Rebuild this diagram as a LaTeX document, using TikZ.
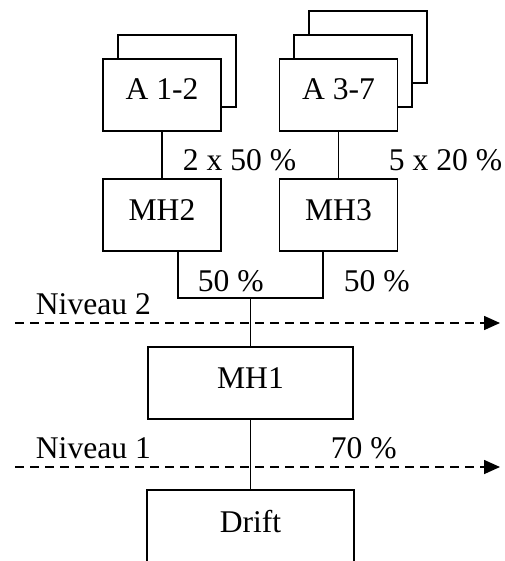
\documentclass[tikz,border=0pt]{standalone}
\usepackage{fontspec}
\setmainfont{Liberation Serif}
\usetikzlibrary{arrows.meta}
\begin{document}
\begin{tikzpicture}[x=1pt,y=-1pt,
  font=\fontsize{31.6}{36}\selectfont,
  line width=1.8pt,
  unitbox/.style={draw, fill=white, inner sep=0pt, text height=41pt, text depth=31pt, minimum width=118pt},
  widebox/.style={draw, fill=white, inner sep=0pt, text height=41pt, text depth=31pt, minimum width=205pt},
  lbl/.style={inner sep=0pt, anchor=base west},
  level/.style={dashed, dash pattern=on 9pt off 6pt, line width=1.6pt, -{Triangle[length=16pt,width=14pt]}}
]
\clip (0,0) rectangle (504,561);

% stacked units, back sheets first
\node[unitbox] (a12b) at (177,71) {};
\node[unitbox] (a12) at (162,95) {A 1-2};
\node[unitbox] (a37c) at (368,47) {};
\node[unitbox] (a37b) at (353,71) {};
\node[unitbox] (a37) at (338.5,95) {A 3-7};

% collecting stages
\node[unitbox] (mh2) at (162,215) {MH2};
\node[unitbox] (mh3) at (338.5,215) {MH3};
\node[widebox] (mh1) at (250.5,383) {MH1};

% drift, running on below the edge
\node[widebox, draw=none, fill=none] (drift) at (250.5,527) {Drift};
\draw ([yshift=-30pt]drift.south west) -- (drift.north west) -- (drift.north east) -- ([yshift=-30pt]drift.south east);

% connections
\coordinate (join) at (250.5,298);
\draw (a12) -- (mh2);
\draw (a37) -- (mh3);
\draw ([xshift=16pt]mh2.south) |- (join) -| ([xshift=-15.5pt]mh3.south);
\draw (join) -- (mh1);
\draw (mh1) -- (drift.north);

% level lines
\coordinate (n2s) at (15,323);
\coordinate (n2e) at (500,323);
\coordinate (n1s) at (15,467);
\coordinate (n1e) at (500,467);
\draw[level] (n2s) -- (n2e);
\draw[level] (n1s) -- (n1e);

% labels
\node[lbl] (l1) at (182,171) {2 x 50 \%};
\node[lbl] (l2) at (388,171) {5 x 20 \%};
\node[lbl] (l3) at (197,291) {50 \%};
\node[lbl] (l4) at (343,291) {50 \%};
\node[lbl] (l5) at (35,314) {Niveau 2};
\node[lbl] (l6) at (35,458) {Niveau 1};
\node[lbl] (l7) at (330,458) {70 \%};
\end{tikzpicture}
\end{document}
